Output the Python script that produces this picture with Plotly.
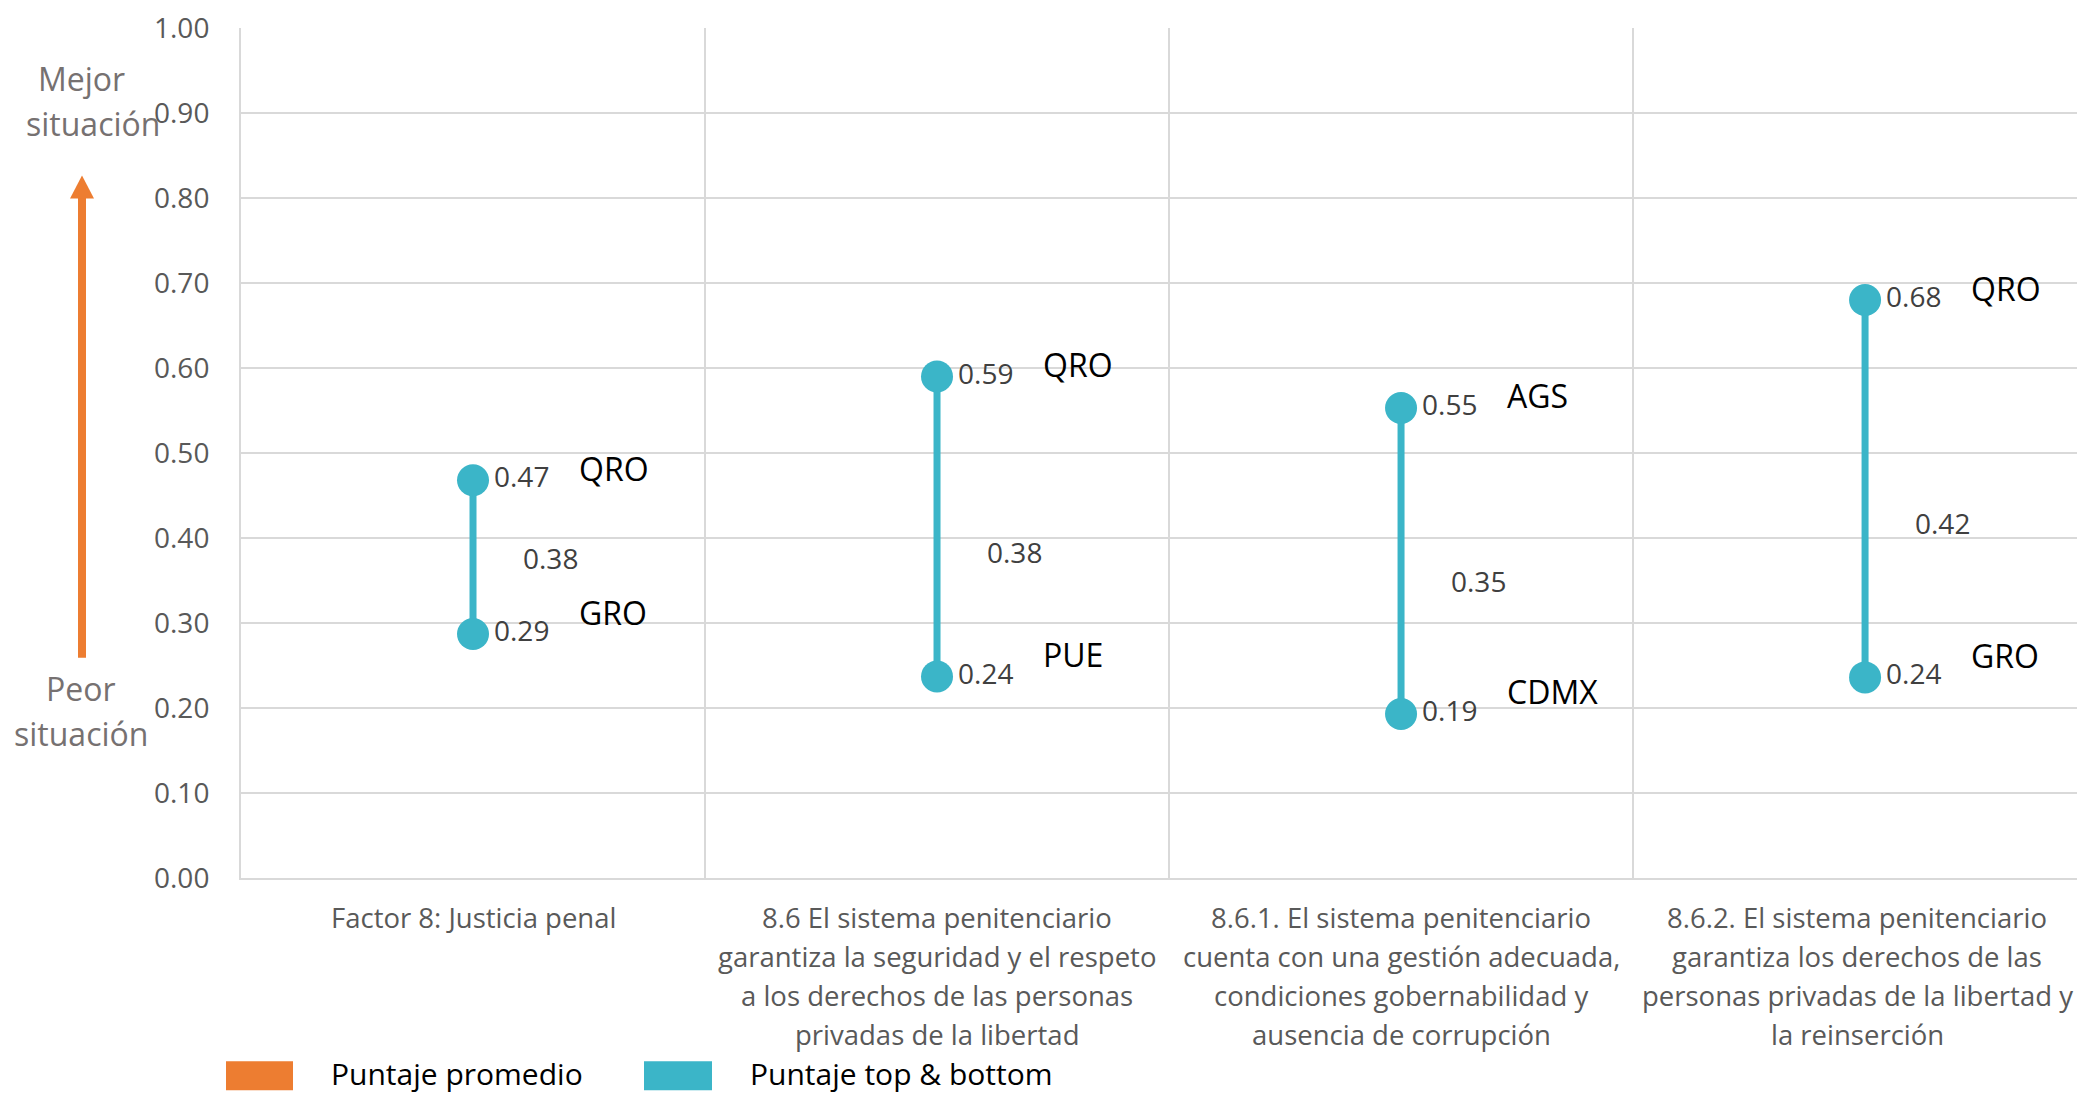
import plotly.graph_objects as go

categories = [
    ["Factor 8: Justicia penal"],
    ["8.6 El sistema penitenciario", "garantiza la seguridad y el respeto", "a los derechos de las personas", "privadas de la libertad"],
    ["8.6.1. El sistema penitenciario", "cuenta con una gestión adecuada,", "condiciones gobernabilidad y", "ausencia de corrupción"],
    ["8.6.2. El sistema penitenciario", "garantiza los derechos de las", "personas privadas de la libertad y", "la reinserción"],
]
top_scores = [0.468, 0.590, 0.553, 0.680]
bottom_scores = [0.287, 0.237, 0.193, 0.236]
avg_scores = [0.376, 0.383, 0.349, 0.418]
top_states = ["QRO", "QRO", "AGS", "QRO"]
bottom_states = ["GRO", "PUE", "CDMX", "GRO"]
y_ticks = [0.0, 0.1, 0.2, 0.3, 0.4, 0.5, 0.6, 0.7, 0.8, 0.9, 1.0]
legend_labels = ["Puntaje promedio", "Puntaje top & bottom"]

TEAL = "#3BB5C8"
ORANGE = "#ED7D31"
FONT = "Open Sans"
OFF = 8  # default page body margin
W, H = 2085 - OFF, 1096 - OFF
L, T = 241 - OFF, 25 - OFF
PLOT_BOTTOM = 878 - OFF
B = H - PLOT_BOTTOM
PW = W - L
PH = PLOT_BOTTOM - T

def px_x(px):
    return (px - OFF - L) / PW

def px_y(py):
    return (PLOT_BOTTOM - (py - OFF)) / PH

fig = go.Figure()

xs, ys = [], []
for i in range(len(top_scores)):
    xs += [i, i, None]
    ys += [bottom_scores[i], top_scores[i], None]
fig.add_trace(go.Scatter(
    x=xs, y=ys, mode="lines",
    line=dict(color=TEAL, width=7),
    hoverinfo="skip", showlegend=False,
))
vx, vy = [], []
for i in range(len(top_scores)):
    vx += [i, i]
    vy += [bottom_scores[i], top_scores[i]]
fig.add_trace(go.Scatter(
    x=vx, y=vy, mode="markers+text",
    marker=dict(color=TEAL, size=32),
    text=[f"{v:.2f}" for v in vy], textposition="middle right",
    textfont=dict(family=FONT, size=28, color="#404040"),
    showlegend=False,
))

annotations = []
n = len(top_scores)
for i in range(n):
    annotations.append(dict(x=i, y=avg_scores[i], xref="x", yref="y", text=f"{avg_scores[i]:.2f}",
                            showarrow=False, xshift=77, xanchor="center",
                            font=dict(family=FONT, size=28, color="#404040")))
    annotations.append(dict(x=i, y=top_scores[i], xref="x", yref="y", text=top_states[i],
                            showarrow=False, xshift=104, yshift=12, xanchor="left",
                            font=dict(family=FONT, size=32, color="#000000")))
    annotations.append(dict(x=i, y=bottom_scores[i], xref="x", yref="y", text=bottom_states[i],
                            showarrow=False, xshift=104, yshift=22, xanchor="left",
                            font=dict(family=FONT, size=32, color="#000000")))
    for j, line in enumerate(categories[i]):
        annotations.append(dict(x=i, y=px_y(918 + 39 * j), xref="x", yref="paper", text=line,
                                showarrow=False, xanchor="center", yanchor="middle",
                                xshift=-8 if i == n - 1 else 0,
                                font=dict(family=FONT, size=27.5, color="#595959")))

for txt, px, py in [("Mejor", 81, 76), ("situación", 93, 121), ("Peor", 81, 688), ("situación", 81, 733)]:
    annotations.append(dict(x=px_x(px), y=px_y(py), xref="paper", yref="paper", text=txt,
                            showarrow=False, xanchor="center", yanchor="middle",
                            font=dict(family=FONT, size=32, color="#767171")))

for txt, px in zip(legend_labels, [329, 748]):
    annotations.append(dict(x=px_x(px), y=px_y(1074), xref="paper", yref="paper", text=txt,
                            showarrow=False, xanchor="left", yanchor="middle",
                            font=dict(family=FONT, size=30, color="#000000")))

shapes = []
shapes.append(dict(type="rect", xref="paper", yref="paper",
                   x0=px_x(78), x1=px_x(86), y0=px_y(657), y1=px_y(192),
                   fillcolor=ORANGE, line=dict(width=0)))
shapes.append(dict(type="path", xref="paper", yref="paper",
                   path=f"M {px_x(70)} {px_y(196)} L {px_x(94)} {px_y(196)} L {px_x(82)} {px_y(173)} Z",
                   fillcolor=ORANGE, line=dict(width=0)))
for color, (x0, x1) in zip([ORANGE, TEAL], [(226, 293), (644, 712)]):
    shapes.append(dict(type="rect", xref="paper", yref="paper",
                       x0=px_x(x0), x1=px_x(x1), y0=px_y(1091), y1=px_y(1062),
                       fillcolor=color, line=dict(width=0)))

fig.update_layout(
    width=W, height=H,
    margin=dict(l=L, r=0, t=T, b=B),
    paper_bgcolor="white", plot_bgcolor="white",
    font=dict(family=FONT),
    annotations=annotations, shapes=shapes,
    showlegend=False,
)
fig.update_xaxes(range=[-0.5, 3.474], tickvals=[0.5, 1.5, 2.5], showticklabels=False,
                 showgrid=True, gridcolor="#D9D9D9", gridwidth=2, zeroline=False,
                 showline=True, linecolor="#D9D9D9", linewidth=2, ticks="")
fig.update_yaxes(range=[0, 1], tickvals=y_ticks, tickformat=".2f",
                 showgrid=True, gridcolor="#D9D9D9", gridwidth=2, zeroline=False,
                 showline=True, linecolor="#D9D9D9", linewidth=2, ticks="",
                 ticklabelstandoff=24, ticklabeloverflow="allow",
                 tickfont=dict(family=FONT, size=28, color="#595959"))

fig.write_html("out.html")
